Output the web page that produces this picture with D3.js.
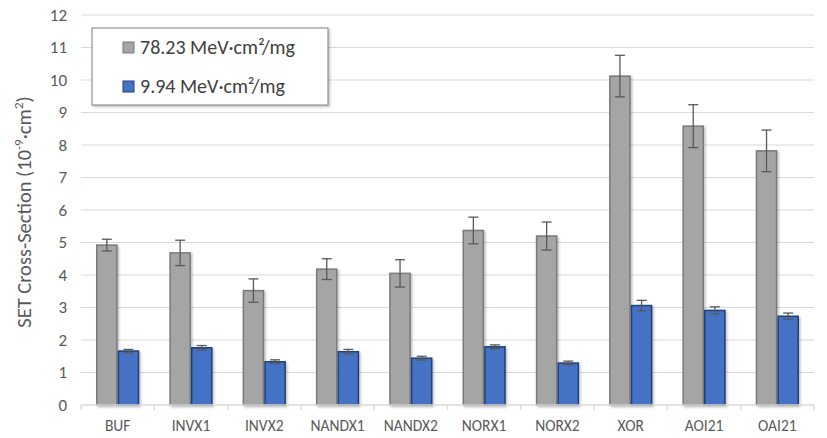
<!DOCTYPE html>
<html><head><meta charset="utf-8">
<script src="https://cdn.jsdelivr.net/npm/d3@7"></script>
<style>body{margin:0;background:#fff}svg{display:block}text{font-family:Carlito,Lato,"Open Sans",sans-serif}</style>
</head><body><svg id="c" width="827" height="438"></svg>
<script>
const categories = ["BUF","INVX1","INVX2","NANDX1","NANDX2","NORX1","NORX2","XOR","AOI21","OAI21"];
const seriesNames = ["78.23 MeV·cm²/mg","9.94 MeV·cm²/mg"];
const highLET = [4.92,4.68,3.52,4.18,4.05,5.37,5.20,10.12,8.58,7.82];
const highErr = [0.18,0.39,0.36,0.32,0.42,0.41,0.43,0.64,0.66,0.64];
const lowLET = [1.66,1.76,1.33,1.64,1.44,1.79,1.29,3.06,2.91,2.73];
const lowErr = [0.05,0.07,0.06,0.07,0.06,0.06,0.06,0.16,0.11,0.10];
const yTicks = [0,1,2,3,4,5,6,7,8,9,10,11,12];

const svg = d3.select("#c");
const m = {l:81, r:13, t:15, b:33};
const W = 827, H = 438;
const x = d3.scaleBand().domain(categories).range([m.l, W-m.r]).paddingInner(0).paddingOuter(0);
const y = d3.scaleLinear().domain([0,12]).range([H-m.b, m.t]);
const inner = d3.scaleBand().domain([0,1]).range([x.bandwidth()*0.205, x.bandwidth()*0.795]).padding(0);

const defs = svg.append("defs");
const f = defs.append("filter").attr("id","sh").attr("x","-20%").attr("y","-20%").attr("width","150%").attr("height","150%");
f.append("feDropShadow").attr("dx",1.5).attr("dy",1.5).attr("stdDeviation",1.2).attr("flood-color","#000").attr("flood-opacity",0.25);

// grid
svg.append("g").selectAll("line").data(yTicks.slice(1)).join("line")
  .attr("x1",m.l).attr("x2",W-m.r).attr("y1",d=>y(d)).attr("y2",d=>y(d))
  .attr("stroke","#d9d9d9").attr("stroke-width",1);

// y axis labels
svg.append("g").selectAll("text").data(yTicks).join("text")
  .attr("x",67).attr("y",d=>y(d)).attr("dy","0.35em").attr("text-anchor","end")
  .attr("font-size",17).attr("fill","#595959").text(d=>d);

// bars
const series = [
  {vals:highLET, err:highErr, fill:"#a5a5a5", stroke:"#7a7a7a"},
  {vals:lowLET, err:lowErr, fill:"#4472c4", stroke:"#203f73"}
];
series.forEach((s,si)=>{
  const g = svg.append("g");
  g.selectAll("rect").data(categories).join("rect")
    .attr("x",c=>x(c)+inner(si)+0.75).attr("width",inner.bandwidth()-1.5)
    .attr("y",(c,i)=>y(s.vals[i])).attr("height",(c,i)=>y(0)-y(s.vals[i]))
    .attr("fill",s.fill).attr("stroke",s.stroke).attr("stroke-width",1.5)
    .attr("filter","url(#sh)");
});
// error bars
series.forEach((s,si)=>{
  const g = svg.append("g").attr("stroke","#595959").attr("stroke-width",1.3);
  categories.forEach((c,i)=>{
    const cx = x(c)+inner(si)+inner.bandwidth()/2;
    const y1 = y(s.vals[i]+s.err[i]), y2 = y(s.vals[i]-s.err[i]);
    g.append("line").attr("x1",cx).attr("x2",cx).attr("y1",y1).attr("y2",y2);
    g.append("line").attr("x1",cx-5).attr("x2",cx+5).attr("y1",y1).attr("y2",y1);
    g.append("line").attr("x1",cx-5).attr("x2",cx+5).attr("y1",y2).attr("y2",y2);
  });
});

// x axis
svg.append("line").attr("x1",m.l).attr("x2",W-m.r).attr("y1",y(0)).attr("y2",y(0)).attr("stroke","#d9d9d9").attr("stroke-width",1.3);
svg.append("g").selectAll("line").data(categories.concat(["_end"])).join("line")
  .attr("x1",(c,i)=>m.l+i*x.step()).attr("x2",(c,i)=>m.l+i*x.step())
  .attr("y1",y(0)).attr("y2",y(0)+5).attr("stroke","#d9d9d9").attr("stroke-width",1.3);
svg.append("g").selectAll("text").data(categories).join("text")
  .attr("x",c=>x(c)+x.bandwidth()/2).attr("y",431).attr("text-anchor","middle")
  .attr("font-size",15.5).attr("fill","#595959").text(c=>c);

// y title
svg.append("text").attr("transform","translate(31,"+(y(6)+2)+") rotate(-90)")
  .attr("text-anchor","middle").attr("font-size",20.5).attr("fill","#595959")
  .html('SET Cross-Section (10<tspan dy="-8" font-size="13">-9</tspan><tspan dy="8">·cm</tspan><tspan dy="-8" font-size="13">2</tspan><tspan dy="8">)</tspan>');

// legend
const lg = svg.append("g");
lg.append("rect").attr("x",92).attr("y",28).attr("width",236).attr("height",77)
  .attr("fill","#fff").attr("stroke","#7f7f7f").attr("stroke-width",1).attr("filter","url(#sh)");
seriesNames.forEach((n,i)=>{
  const yy = 47 + i*39;
  lg.append("rect").attr("x",123).attr("y",yy-5).attr("width",11).attr("height",11)
    .attr("fill",series[i].fill).attr("stroke",series[i].stroke).attr("stroke-width",1);
  lg.append("text").attr("x",140).attr("y",yy).attr("dy","0.35em").attr("font-size",20)
    .attr("fill","#404040").text(n);
});
</script></body></html>
